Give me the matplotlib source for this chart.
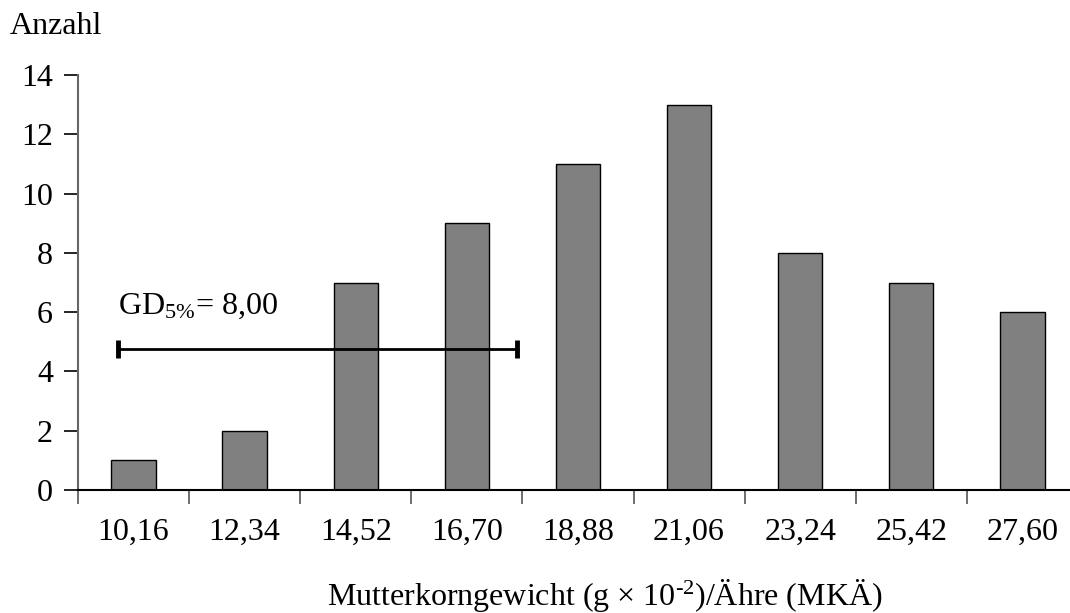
import numpy as np
import matplotlib
matplotlib.use("Agg")
import matplotlib.pyplot as plt

# Klassenmitten und Häufigkeiten
klassen = ["10,16", "12,34", "14,52", "16,70", "18,88", "21,06", "23,24", "25,42", "27,60"]
anzahl = [1, 2, 7, 9, 11, 13, 8, 7, 6]
yticks = [0, 2, 4, 6, 8, 10, 12, 14]
gd_start = -0.14   # Position in Klassen-Einheiten
gd_ende = 3.45
gd_hoehe = 4.75

plt.rcParams["font.family"] = "Liberation Serif"
plt.rcParams["mathtext.fontset"] = "custom"
plt.rcParams["mathtext.rm"] = "Liberation Serif"
plt.rcParams["mathtext.it"] = "Liberation Serif:italic"

fig = plt.figure(figsize=(10.7, 6.13), dpi=100)
# axes in pixels: x 78..1070, y 75..490
ax = fig.add_axes([78 / 1070, (613 - 490) / 613, (1070 - 78) / 1070, (490 - 75) / 613])

x = np.arange(len(klassen))
ax.bar(x, anzahl, width=0.4, color="#808080", edgecolor="black", linewidth=1)

# GD-Balken
ax.plot([gd_start, gd_ende], [gd_hoehe, gd_hoehe], color="black", lw=2)
for xe in (gd_start, gd_ende):
    ax.plot([xe, xe], [gd_hoehe - 0.3, gd_hoehe + 0.3], color="black", lw=3.5,
            solid_capstyle="butt")
ax.text(gd_start, 5.95, r"GD$_{\mathrm{5\%}}$= 8,00", fontsize=23, va="baseline", ha="left")

ax.set_xlim(-0.5, -0.5 + (1070 - 78) / 111.1)
ax.set_ylim(0, 14)
ax.set_yticks(yticks)
ax.set_yticklabels([str(v) for v in yticks])
ax.set_xticks(x)
ax.set_xticklabels(klassen)
ax.set_xticks(np.arange(len(klassen)) - 0.5, minor=True)
ax.tick_params(axis="x", which="major", length=0, pad=20, labelsize=23)
ax.tick_params(axis="x", which="minor", length=10, width=1.2, color="#555555")
ax.tick_params(axis="y", length=10, width=1.2, pad=8, labelsize=23, direction="out")

for s in ("top", "right"):
    ax.spines[s].set_visible(False)
ax.spines["left"].set_color("#666666")
ax.spines["left"].set_linewidth(1.5)
ax.spines["bottom"].set_linewidth(1.5)

fig.text(10 / 1070, 1 - 27 / 613, "Anzahl", fontsize=23, va="center", ha="left")
fig.text(605 / 1070, 1 - 596 / 613, r"Mutterkorngewicht (g × 10$^{\mathrm{\text{-}2}}$)/Ähre (MKÄ)",
         fontsize=23, va="center", ha="center")

fig.savefig("out.png", dpi=100)
